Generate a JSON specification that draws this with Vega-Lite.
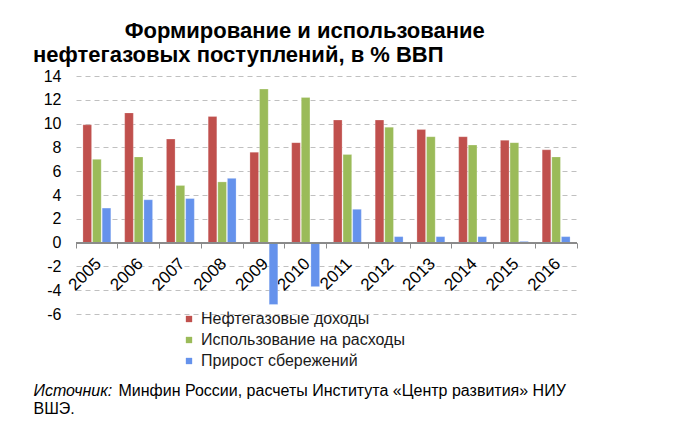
{
  "$schema": "https://vega.github.io/schema/vega-lite/v6.json",
  "width": 501,
  "height": 238,
  "autosize": "none",
  "padding": {"left": 76, "top": 76, "right": 102, "bottom": 115},
  "background": "white",
  "config": {
    "view": {"stroke": null},
    "font": "Liberation Sans",
    "axis": {"labelFont": "Liberation Sans", "titleFont": "Liberation Sans"},
    "legend": {"labelFont": "Liberation Sans"}
  },
  "title": {
    "text": ["\u200b\u00a0\u00a0\u00a0\u00a0\u00a0\u00a0\u00a0\u00a0\u00a0\u00a0\u00a0\u00a0\u00a0\u00a0\u00a0Формирование и использование", "нефтегазовых поступлений, в % ВВП"],
    "frame": "group",
    "anchor": "start",
    "align": "left",
    "dx": -43,
    "fontSize": 22,
    "fontWeight": "bold",
    "lineHeight": 24,
    "color": "#000000",
    "offset": 1
  },
  "data": {
    "values": [
      {"year": "2005", "series": "Нефтегазовые доходы", "value": 9.9},
      {"year": "2005", "series": "Использование на расходы", "value": 7.0},
      {"year": "2005", "series": "Прирост сбережений", "value": 2.9},
      {"year": "2006", "series": "Нефтегазовые доходы", "value": 10.9},
      {"year": "2006", "series": "Использование на расходы", "value": 7.2},
      {"year": "2006", "series": "Прирост сбережений", "value": 3.6},
      {"year": "2007", "series": "Нефтегазовые доходы", "value": 8.7},
      {"year": "2007", "series": "Использование на расходы", "value": 4.8},
      {"year": "2007", "series": "Прирост сбережений", "value": 3.7},
      {"year": "2008", "series": "Нефтегазовые доходы", "value": 10.6},
      {"year": "2008", "series": "Использование на расходы", "value": 5.1},
      {"year": "2008", "series": "Прирост сбережений", "value": 5.4},
      {"year": "2009", "series": "Нефтегазовые доходы", "value": 7.6},
      {"year": "2009", "series": "Использование на расходы", "value": 12.9},
      {"year": "2009", "series": "Прирост сбережений", "value": -5.2},
      {"year": "2010", "series": "Нефтегазовые доходы", "value": 8.4},
      {"year": "2010", "series": "Использование на расходы", "value": 12.2},
      {"year": "2010", "series": "Прирост сбережений", "value": -3.7},
      {"year": "2011", "series": "Нефтегазовые доходы", "value": 10.3},
      {"year": "2011", "series": "Использование на расходы", "value": 7.4},
      {"year": "2011", "series": "Прирост сбережений", "value": 2.8},
      {"year": "2012", "series": "Нефтегазовые доходы", "value": 10.3},
      {"year": "2012", "series": "Использование на расходы", "value": 9.7},
      {"year": "2012", "series": "Прирост сбережений", "value": 0.5},
      {"year": "2013", "series": "Нефтегазовые доходы", "value": 9.5},
      {"year": "2013", "series": "Использование на расходы", "value": 8.9},
      {"year": "2013", "series": "Прирост сбережений", "value": 0.5},
      {"year": "2014", "series": "Нефтегазовые доходы", "value": 8.9},
      {"year": "2014", "series": "Использование на расходы", "value": 8.2},
      {"year": "2014", "series": "Прирост сбережений", "value": 0.5},
      {"year": "2015", "series": "Нефтегазовые доходы", "value": 8.6},
      {"year": "2015", "series": "Использование на расходы", "value": 8.4},
      {"year": "2015", "series": "Прирост сбережений", "value": 0.1},
      {"year": "2016", "series": "Нефтегазовые доходы", "value": 7.8},
      {"year": "2016", "series": "Использование на расходы", "value": 7.2},
      {"year": "2016", "series": "Прирост сбережений", "value": 0.5}
    ]
  },
  "layer": [
    {
      "mark": {"type": "bar", "stroke": "#ffffff", "strokeOpacity": 0.4, "strokeWidth": 0.6},
      "encoding": {
        "x": {
          "field": "year",
          "type": "nominal",
          "scale": {"paddingInner": 0, "paddingOuter": 0},
          "axis": {
            "orient": "bottom",
            "offset": -71,
            "bandPosition": 1,
            "tickExtra": true,
            "labelAngle": -45,
            "labelAlign": "right",
            "labelBaseline": "top",
            "labelOffset": -4,
            "labelFontSize": 17,
            "labelColor": "#000000",
            "labelPadding": 7,
            "tickSize": 5,
            "tickColor": "#8c8c8c",
            "domainColor": "#8c8c8c",
            "grid": false,
            "title": "Минфин России, расчеты Института «Центр развития» НИУ",
            "titleFontSize": 16,
            "titleFontWeight": "normal",
            "titleColor": "#000000",
            "titleX": 42,
            "titleY": 152,
            "titleAlign": "left",
            "titleAnchor": "start",
            "titleBaseline": "alphabetic"
          }
        },
        "xOffset": {
          "field": "series",
          "type": "nominal",
          "scale": {
            "domain": ["Нефтегазовые доходы", "Использование на расходы", "Прирост сбережений"],
            "paddingInner": 0.1,
            "paddingOuter": 0.72
          }
        },
        "y": {
          "field": "value",
          "type": "quantitative",
          "scale": {"domain": [-6, 14], "nice": false, "zero": false},
          "axis": {
            "values": [-6, -4, -2, 0, 2, 4, 6, 8, 10, 12, 14],
            "labelExpr": "datum.value < 0 ? '-' + abs(datum.value) : '' + datum.value",
            "domain": false,
            "ticks": false,
            "grid": true,
            "gridColor": "#c0c0c0",
            "gridDash": [5, 4],
            "gridWidth": 1,
            "labelFontSize": 16,
            "labelColor": "#000000",
            "labelPadding": 15,
            "title": "Источник:",
            "titleFontSize": 16,
            "titleFontStyle": "italic",
            "titleFontWeight": "normal",
            "titleColor": "#000000",
            "titleAngle": 0,
            "titleX": -43,
            "titleY": 319,
            "titleAlign": "left",
            "titleBaseline": "alphabetic"
          }
        },
        "color": {
          "field": "series",
          "type": "nominal",
          "scale": {
            "domain": ["Нефтегазовые доходы", "Использование на расходы", "Прирост сбережений"],
            "range": ["#C0504D", "#9BBB59", "#6592EC"]
          },
          "legend": {
            "orient": "none",
            "legendX": 105,
            "legendY": 235,
            "title": null,
            "symbolType": "square",
            "symbolSize": 40,
            "symbolStrokeWidth": 0,
            "labelFontSize": 16,
            "labelColor": "#1a1a1a",
            "labelOffset": 4,
            "labelLimit": 0,
            "rowPadding": 5,
            "padding": 0
          }
        }
      }
    },
    {
      "mark": {"type": "rule", "color": "#8c8c8c", "strokeWidth": 1},
      "encoding": {
        "y": {
          "datum": 0,
          "type": "quantitative",
          "axis": {
            "orient": "right",
            "labels": false,
            "ticks": false,
            "domain": false,
            "grid": false,
            "title": "ВШЭ.",
            "titleFontSize": 16,
            "titleFontWeight": "normal",
            "titleColor": "#000000",
            "titleAngle": 0,
            "titleX": -544,
            "titleY": 337,
            "titleAlign": "left",
            "titleBaseline": "alphabetic"
          }
        }
      }
    }
  ],
  "resolve": {"axis": {"y": "independent"}}
}
